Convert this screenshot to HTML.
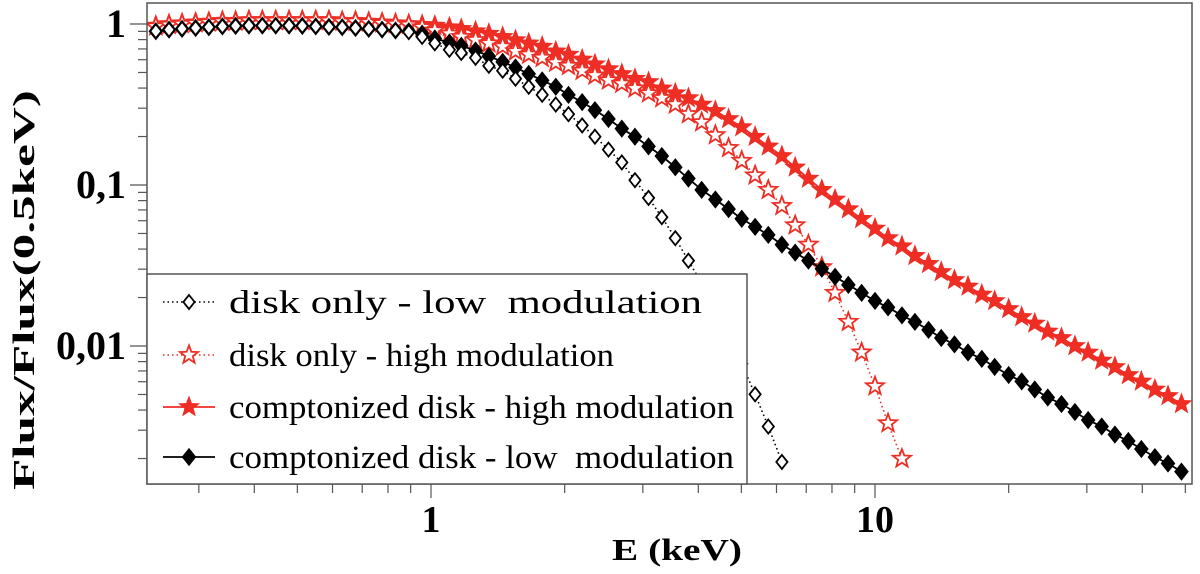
<!DOCTYPE html>
<html><head><meta charset="utf-8">
<style>
body{margin:0;background:#fff;}
svg{display:block;}
text{font-family:"Liberation Serif",serif;}
</style></head>
<body>
<svg id="chart" width="1200" height="574" viewBox="0 0 1200 574">
<g id="plot"></g>
<g id="axes"></g>
<g id="legend"></g>
</svg>
<script>
// energy grid (keV)
const energies=[0.240,0.257,0.275,0.295,0.316,0.339,0.363,0.389,0.417,0.447,0.479,0.513,0.550,0.589,0.631,0.676,0.724,0.776,0.832,0.891,0.955,1.02,1.10,1.17,1.26,1.35,1.45,1.55,1.66,1.78,1.91,2.04,2.19,2.34,2.51,2.69,2.88,3.09,3.31,3.55,3.80,4.07,4.37,4.68,5.01,5.37,5.75,6.17,6.61,7.08,7.59,8.13,8.71,9.33,10.0,10.7,11.5,12.3,13.2,14.1,15.1,16.2,17.4,18.6,20.0,21.4,22.9,24.5,26.3,28.2,30.2,32.4,34.7,37.2,39.8,42.7,45.7,49.0];
// log10(flux ratio) per series
const compLowLog=[-0.045,-0.035,-0.03,-0.025,-0.02,-0.015,-0.012,-0.01,-0.01,-0.01,-0.01,-0.012,-0.015,-0.018,-0.02,-0.025,-0.03,-0.035,-0.04,-0.045,-0.06,-0.09,-0.115,-0.135,-0.165,-0.20,-0.235,-0.27,-0.31,-0.35,-0.39,-0.44,-0.485,-0.535,-0.59,-0.65,-0.70,-0.76,-0.82,-0.89,-0.96,-1.03,-1.09,-1.15,-1.21,-1.26,-1.31,-1.37,-1.42,-1.47,-1.52,-1.57,-1.62,-1.67,-1.72,-1.76,-1.81,-1.85,-1.90,-1.95,-1.99,-2.04,-2.08,-2.13,-2.18,-2.22,-2.27,-2.32,-2.36,-2.41,-2.46,-2.50,-2.55,-2.59,-2.64,-2.69,-2.73,-2.78];
const diskLowLog=[-0.045,-0.035,-0.03,-0.025,-0.02,-0.015,-0.012,-0.01,-0.01,-0.01,-0.01,-0.012,-0.015,-0.018,-0.02,-0.025,-0.03,-0.035,-0.04,-0.05,-0.08,-0.12,-0.16,-0.18,-0.21,-0.26,-0.29,-0.34,-0.39,-0.44,-0.50,-0.56,-0.63,-0.70,-0.78,-0.86,-0.97,-1.08,-1.20,-1.33,-1.47,-1.61,-1.76,-1.93,-2.11,-2.30,-2.50,-2.72,null,null,null,null,null,null,null,null,null,null,null,null,null,null,null,null,null,null,null,null,null,null,null,null,null,null,null,null,null,null];
const compHighLog=[-0.01,0.0,0.005,0.01,0.015,0.02,0.02,0.025,0.025,0.025,0.025,0.025,0.025,0.025,0.02,0.02,0.015,0.01,0.005,0.0,-0.005,-0.01,-0.02,-0.03,-0.045,-0.06,-0.08,-0.10,-0.12,-0.14,-0.17,-0.19,-0.22,-0.25,-0.28,-0.31,-0.34,-0.36,-0.40,-0.43,-0.46,-0.50,-0.54,-0.59,-0.64,-0.70,-0.76,-0.82,-0.89,-0.96,-1.03,-1.09,-1.15,-1.21,-1.27,-1.33,-1.38,-1.44,-1.49,-1.54,-1.59,-1.63,-1.68,-1.72,-1.77,-1.82,-1.86,-1.91,-1.95,-2.00,-2.04,-2.09,-2.13,-2.18,-2.22,-2.27,-2.31,-2.36];
const diskHighLog=[-0.015,-0.005,0.0,0.005,0.01,0.015,0.015,0.02,0.02,0.02,0.02,0.02,0.02,0.02,0.015,0.015,0.01,0.005,0.0,-0.005,-0.02,-0.04,-0.06,-0.08,-0.10,-0.12,-0.14,-0.17,-0.19,-0.21,-0.24,-0.26,-0.29,-0.32,-0.35,-0.37,-0.40,-0.43,-0.46,-0.50,-0.56,-0.61,-0.69,-0.77,-0.85,-0.94,-1.03,-1.13,-1.25,-1.37,-1.51,-1.67,-1.85,-2.04,-2.25,-2.48,-2.70,null,null,null,null,null,null,null,null,null,null,null,null,null,null,null,null,null,null,null,null,null];
const xTickLabels=["1","10"];
const xTickValues=[1,10];
const yTickLabels=["1","0,1","0,01"];
const yTickValues=[1,0.1,0.01];

const NS="http://www.w3.org/2000/svg";
const L=147,R=1192,T=3,B=484;
const X0=431,XD=444,Y0=24,YD=161;
function xs(e){return X0+Math.log10(e)*XD;}
function ysLog(l){return Y0-l*YD;}
function ys(v){return ysLog(Math.log10(v));}
function mk(tag,attrs,parent){const el=document.createElementNS(NS,tag);for(const k in attrs)el.setAttribute(k,attrs[k]);parent.appendChild(el);return el;}
const plot=document.getElementById('plot'),axes=document.getElementById('axes'),legend=document.getElementById('legend');

const defs=mk('defs',{},plot);
const cp=mk('clipPath',{id:'clip'},defs);
mk('rect',{x:L,y:T,width:R-L,height:B-T},cp);

function diamond(cx,cy,s){return `M${cx},${cy-s} L${cx+s*0.8},${cy} L${cx},${cy+s} L${cx-s*0.8},${cy} Z`;}
function star(cx,cy,r){let d='';for(let i=0;i<10;i++){const a=-Math.PI/2+i*Math.PI/5;const rr=i%2?r*0.42:r;d+=(i?'L':'M')+(cx+rr*Math.cos(a)).toFixed(2)+','+(cy+rr*Math.sin(a)).toFixed(2);}return d+'Z';}

const series=[
 {name:'disk-low',data:diskLowLog,color:'#000',dash:'1.5 3',shape:'diamond',fill:'#fff'},
 {name:'disk-high',data:diskHighLog,color:'#ee2e24',dash:'1.5 3',shape:'star',fill:'#fff'},
 {name:'comp-high',data:compHighLog,color:'#ee2e24',dash:null,shape:'star',fill:'#ee2e24'},
 {name:'comp-low',data:compLowLog,color:'#000',dash:null,shape:'diamond',fill:'#000'}
];
function markerPath(s,cx,cy){return s.shape==='diamond'?diamond(cx,cy,s.fill==='#000'?8.5:7):star(cx,cy,s.fill==='#fff'?9.5:10.5);}
const order=[2,1,3,0];
order.forEach(si=>{
 const s=series[si];
 const g=mk('g',{'clip-path':'url(#clip)'},plot);
 
 
 let d='';
 s.data.forEach((v,i)=>{if(v===null)return;d+=(d?'L':'M')+xs(energies[i]).toFixed(1)+','+ysLog(v).toFixed(1);});
 const ln=mk('path',{d:d,fill:'none',stroke:s.color,'stroke-width':s.dash?1.6:1.8},g);
 if(s.dash)ln.setAttribute('stroke-dasharray',s.dash);
 
 
 s.data.forEach((v,i)=>{
  if(v===null)return;
  const cx=xs(energies[i]),cy=ysLog(v);
  const m=mk('path',{d:markerPath(s,cx,cy),fill:s.fill,stroke:s.color,'stroke-width':s.fill==='#fff'?1.8:0.8},g);
  
  
 });
});

// frame
const fr=mk('rect',{x:L,y:T,width:R-L,height:B-T,fill:'none',stroke:'#555','stroke-width':1.5},axes);



// x ticks
for(let dec=-1;dec<=1;dec++){for(let k=1;k<10;k++){const e=k*Math.pow(10,dec);const x=xs(e);if(x<L||x>R)continue;
 const t=mk('line',{x1:x,x2:x,y1:B,y2:B+(k===1?14:9),stroke:'#555','stroke-width':1.2},axes);
 }}
xTickValues.forEach((v,i)=>{const t=mk('text',{x:xs(v),y:532,'text-anchor':'middle','font-size':38,'font-weight':'bold'},axes);t.textContent=xTickLabels[i];
 });
// y ticks
for(let dec=-3;dec<=0;dec++){for(let k=1;k<10;k++){const v=k*Math.pow(10,dec);const y=ys(v);if(y<T||y>B)continue;
 const t=mk('line',{x1:L-(k===1?17:9),x2:L,y1:y,y2:y,stroke:'#555','stroke-width':1.2},axes);
 }}
yTickValues.forEach((v,i)=>{const t=mk('text',{x:126,y:ys(v)+13,'text-anchor':'end','font-size':40,'font-weight':'bold'},axes);t.textContent=yTickLabels[i];
 });

const xt=mk('text',{x:612,y:560,'font-size':31,'font-weight':'bold',textLength:130,lengthAdjust:'spacingAndGlyphs'},axes);xt.textContent='E (keV)';

const yt=mk('text',{x:-490,y:34,transform:'rotate(-90)','font-size':31,'font-weight':'bold',textLength:400,lengthAdjust:'spacingAndGlyphs'},axes);yt.textContent='Flux/Flux(0.5keV)';


// legend
const lb=mk('rect',{x:L,y:274,width:600,height:B-274,fill:'#fff',stroke:'#555','stroke-width':1.5},legend);

const labels=['disk only - low  modulation','disk only - high modulation','comptonized disk - high modulation','comptonized disk - low  modulation'];
const labelW=[473,385,505,505];
const legY=[302,355,407,457];
[0,1,2,3].forEach((si,i)=>{
 const s=series[si];const y=legY[i];
 const g=mk('g',{},legend);
 
 
 const ln=mk('line',{x1:163,x2:215,y1:y,y2:y,stroke:s.color,'stroke-width':s.dash?1.6:1.8},g);
 if(s.dash)ln.setAttribute('stroke-dasharray',s.dash);
 mk('path',{d:markerPath(s,189,y),fill:s.fill,stroke:s.color,'stroke-width':s.fill==='#fff'?1.8:0.8},g);
 const t=mk('text',{x:229,y:y+11,'font-size':33,'xml:space':'preserve',textLength:labelW[i],lengthAdjust:'spacingAndGlyphs'},g);
 t.style.whiteSpace='pre';
 t.textContent=labels[i];
});
</script>
</body></html>
